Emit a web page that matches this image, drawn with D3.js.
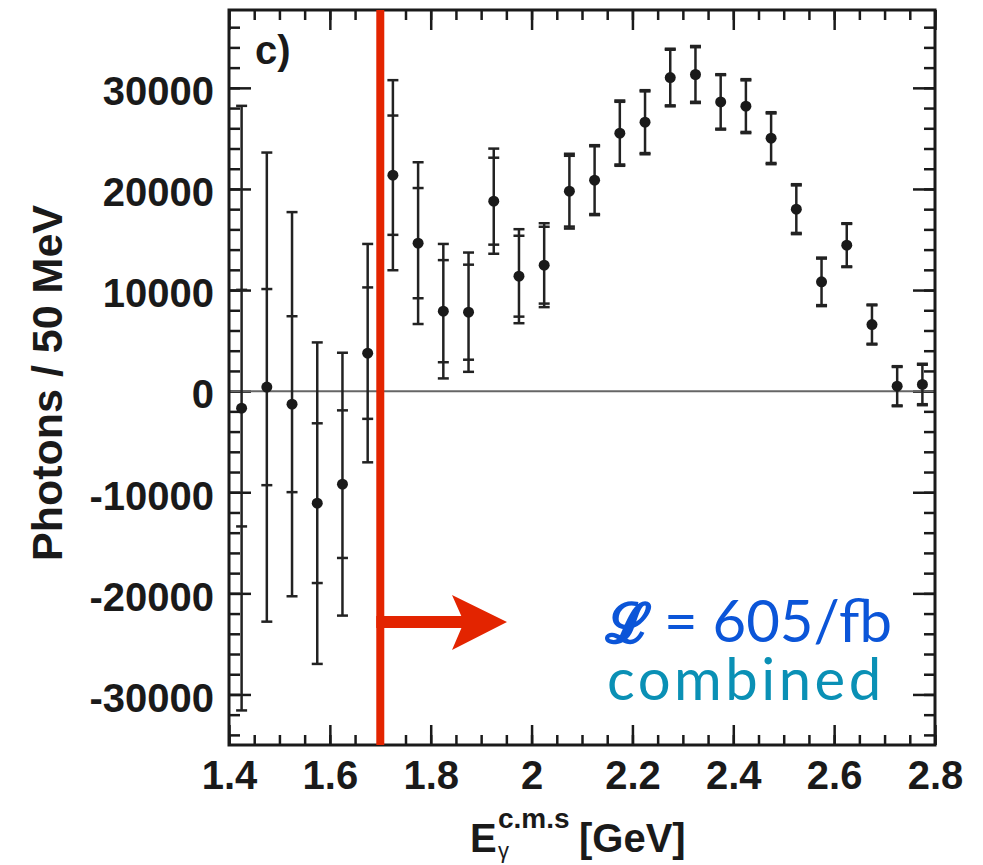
<!DOCTYPE html>
<html>
<head>
<meta charset="utf-8">
<script src="https://cdn.jsdelivr.net/npm/d3@7"></script>
<style>
  body { margin: 0; background: #fff; }
  svg { display: block; }
</style>
</head>
<body>
<svg id="chart" width="983" height="865"></svg>
<script>
// bin centres (GeV), 50 MeV bins
const energy = [1.425, 1.475, 1.525, 1.575, 1.625, 1.675, 1.725, 1.775, 1.825, 1.875,
                1.925, 1.975, 2.025, 2.075, 2.125, 2.175, 2.225, 2.275, 2.325, 2.375,
                2.425, 2.475, 2.525, 2.575, 2.625, 2.675, 2.725, 2.775];
const photons = [-1680, 400, -1290, -11080, -9200, 3760, 21360, 14640, 7910, 7810,
                 18790, 11370, 12460, 19780, 20870, 25520, 26600, 31020, 31320, 28610,
                 28190, 25020, 18000, 10810, 14440, 6590, 490, 660];
const statErr = [11700, 9700, 8700, 7900, 7300, 6500, 5900, 5450, 5050, 4700,
                 4300, 4000, 3800, 3500, 3350, 3100, 3050, 2750, 2700, 2650,
                 2550, 2450, 2350, 2300, 2100, 1900, 1900, 1950];
const totalErr = [29900, 23200, 19000, 15900, 13000, 10800, 9400, 8000, 6650, 5900,
                  5200, 4650, 4150, 3700, 3460, 3230, 3170, 2850, 2820, 2740,
                  2670, 2570, 2470, 2400, 2170, 1980, 1980, 2050];
const xTicks = [1.4, 1.6, 1.8, 2.0, 2.2, 2.4, 2.6, 2.8];
const yTicks = [-30000, -20000, -10000, 0, 10000, 20000, 30000];
const cutEnergy = 1.7;

const svg = d3.select('#chart');
const plotL = 229, plotR = 935, plotT = 10, plotB = 745;

const x = d3.scaleLinear().domain([1.4, 2.8]).range([plotL, plotR]);
const y = d3.scaleLinear().domain([-35000, 37700]).range([plotB, plotT]);

const xMinor = d3.range(28).map(i => 1.4 + i * 0.05).concat([2.8]);
const yMinor = d3.range(-34000, 37701, 2000);

const axisFont = "'Liberation Sans', Arial, Helvetica, sans-serif";

// ticks, all four sides, pointing inward
function styleAxis(g) {
    g.select('.domain').remove();
    g.selectAll('.tick line').attr('stroke', '#1a1a1a').attr('stroke-width', 2.5);
    g.selectAll('text')
        .attr('fill', '#1a1a1a')
        .style('font-family', axisFont)
        .style('font-weight', 'bold')
        .style('font-size', '40px');
}

svg.append('g').attr('transform', `translate(0,${plotB})`)
    .call(d3.axisBottom(x).tickValues(xMinor).tickSize(-10).tickFormat(''))
    .call(styleAxis);
svg.append('g').attr('transform', `translate(0,${plotB})`)
    .call(d3.axisBottom(x).tickValues(xTicks).tickSize(-20).tickPadding(16)
        .tickFormat(d3.format('~g')))
    .call(styleAxis);
svg.append('g').attr('transform', `translate(0,${plotT})`)
    .call(d3.axisTop(x).tickValues(xMinor).tickSize(-10).tickFormat(''))
    .call(styleAxis);
svg.append('g').attr('transform', `translate(0,${plotT})`)
    .call(d3.axisTop(x).tickValues(xTicks).tickSize(-20).tickFormat(''))
    .call(styleAxis);

svg.append('g').attr('transform', `translate(${plotL},0)`)
    .call(d3.axisLeft(y).tickValues(yMinor).tickSize(-11).tickFormat(''))
    .call(styleAxis);
svg.append('g').attr('transform', `translate(${plotL},0)`)
    .call(d3.axisLeft(y).tickValues(yTicks).tickSize(-22).tickPadding(15)
        .tickFormat(d => (d < 0 ? '-' : '') + Math.abs(d)))
    .call(styleAxis)
    .call(g => g.selectAll('text').attr('dy', '0.42em'));
svg.append('g').attr('transform', `translate(${plotR},0)`)
    .call(d3.axisRight(y).tickValues(yMinor).tickSize(-11).tickFormat(''))
    .call(styleAxis);
svg.append('g').attr('transform', `translate(${plotR},0)`)
    .call(d3.axisRight(y).tickValues(yTicks).tickSize(-22).tickFormat(''))
    .call(styleAxis);

// zero line
svg.append('line')
    .attr('x1', plotL).attr('x2', plotR)
    .attr('y1', y(0)).attr('y2', y(0))
    .attr('stroke', '#666').attr('stroke-width', 2);

// frame
svg.append('rect')
    .attr('x', plotL).attr('y', plotT)
    .attr('width', plotR - plotL).attr('height', plotB - plotT)
    .attr('fill', 'none').attr('stroke', '#1a1a1a').attr('stroke-width', 3);

// data points with stat + total errors
const pts = energy.map((e, i) => ({ e, v: photons[i], s: statErr[i], t: totalErr[i] }));
const cap = 5.5;
const pg = svg.append('g').attr('stroke', '#222').attr('stroke-width', 2.5);
const p = pg.selectAll('g.pt').data(pts).join('g').attr('class', 'pt');
p.append('line')
    .attr('x1', d => x(d.e)).attr('x2', d => x(d.e))
    .attr('y1', d => y(d.v + d.t)).attr('y2', d => y(d.v - d.t));
[d => d.v + d.t, d => d.v - d.t, d => d.v + d.s, d => d.v - d.s].forEach(f => {
    p.append('line')
        .attr('x1', d => x(d.e) - cap).attr('x2', d => x(d.e) + cap)
        .attr('y1', d => y(f(d))).attr('y2', d => y(f(d)));
});
p.append('circle')
    .attr('cx', d => x(d.e)).attr('cy', d => y(d.v))
    .attr('r', 5.5).attr('fill', '#1a1a1a').attr('stroke', 'none');

// panel label
svg.append('text')
    .attr('x', 255).attr('y', 64)
    .style('font-family', axisFont).style('font-weight', 'bold').style('font-size', '40px')
    .attr('fill', '#1a1a1a')
    .text('c)');

// axis titles
svg.append('text')
    .attr('transform', `translate(62,383) rotate(-90)`)
    .attr('text-anchor', 'middle')
    .style('font-family', axisFont).style('font-weight', 'bold').style('font-size', '43px')
    .attr('fill', '#1a1a1a')
    .text('Photons / 50 MeV');

const xt = svg.append('text')
    .attr('y', 852)
    .style('font-family', axisFont).style('font-weight', 'bold').style('font-size', '40px')
    .attr('fill', '#1a1a1a');
xt.append('tspan').attr('x', 470).text('E');
xt.append('tspan').attr('x', 498).attr('y', 828).style('font-size', '28px').text('c.m.s');
xt.append('tspan').attr('x', 498).attr('y', 858).style('font-size', '22px')
    .style('font-weight', 'normal').text('γ');
xt.append('tspan').attr('x', 579).attr('y', 852).text('[GeV]');

// cut line and arrow
const red = '#e32400';
svg.append('line')
    .attr('x1', x(cutEnergy)).attr('x2', x(cutEnergy))
    .attr('y1', plotT).attr('y2', plotB)
    .attr('stroke', red).attr('stroke-width', 8);
const ay = 622;
svg.append('line')
    .attr('x1', x(cutEnergy) - 4).attr('x2', 470)
    .attr('y1', ay).attr('y2', ay)
    .attr('stroke', red).attr('stroke-width', 12);
svg.append('path')
    .attr('d', `M507,${ay} L452,${ay - 27} L464,${ay} L452,${ay + 28} Z`)
    .attr('fill', red);

// luminosity note
const noteFont = "Lato, 'Open Sans', sans-serif";
const blue = '#0b55d8';
const lum = svg.append('text')
    .attr('x', 606).attr('y', 642)
    .style('font-family', noteFont).style('font-size', '58px')
    .attr('fill', blue);
lum.append('tspan').style('font-family', "'DejaVu Serif', serif").style('font-weight', 'bold')
    .style('font-size', '54px')
    .attr('stroke', blue).attr('stroke-width', 1.6)
    .text('ℒ');
lum.append('tspan').attr('x', 664).text('= 605/fb');
svg.append('text')
    .attr('x', 607).attr('y', 700)
    .style('font-family', noteFont).style('font-size', '58px')
    .style('letter-spacing', '3.5px')
    .attr('fill', '#0a90b5')
    .text('combined');
</script>
</body>
</html>
